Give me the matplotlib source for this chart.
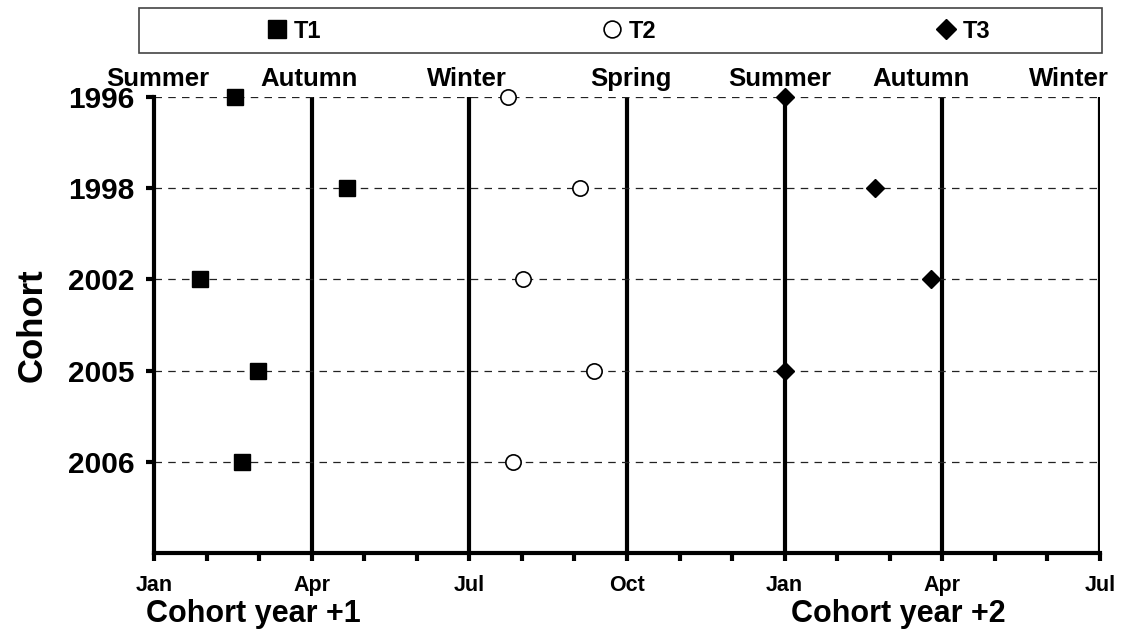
import numpy as np
import matplotlib.pyplot as plt
from matplotlib.patches import Rectangle

plt.rcParams['font.family'] = ['Liberation Sans', 'DejaVu Sans']
plt.rcParams['font.weight'] = 'bold'

# cohorts, top to bottom
cohorts = ["1996", "1998", "2002", "2005", "2006"]
cohort_pos = [5, 4, 3, 2, 1]

# months after 1 Jan of cohort year +1
t1 = [1.55, 3.68, 0.87, 1.98, 1.68]
t2 = [6.74, 8.10, 7.02, 8.37, 6.83]
t3 = [12.0, 13.72, 14.78, 12.0, np.nan]

month_ticks = [0, 3, 6, 9, 12, 15, 18]
month_labels = ["Jan", "Apr", "Jul", "Oct", "Jan", "Apr", "Jul"]
seasons = ["Summer", "Autumn", "Winter", "Spring", "Summer", "Autumn", "Winter"]
season_x = [0.08, 2.95, 5.95, 9.07, 11.9, 14.6, 17.4]

fig = plt.figure(figsize=(11.27, 6.39), dpi=100)
ax = fig.add_axes([0.1366, 0.1346, 0.976 - 0.1366, 0.848 - 0.1346])

ax.set_xlim(0, 18)
ax.set_ylim(0, 5)

# quarter lines and cohort gridlines
for m in month_ticks[1:]:
    ax.axvline(m, color="black", lw=3, zorder=1)
for y in cohort_pos:
    ax.axhline(y, color="#222222", lw=0.9, ls=(0, (6, 5)), zorder=1)

ax.plot(t1, cohort_pos, ls="none", marker="s", ms=12, color="black",
        clip_on=False, zorder=3, label="T1")
ax.plot(t2, cohort_pos, ls="none", marker="o", ms=11, mfc="white", mec="black",
        mew=1.2, clip_on=False, zorder=3, label="T2")
ax.plot(t3, cohort_pos, ls="none", marker="D", ms=9, color="black",
        clip_on=False, zorder=3, label="T3")

for s in ["top", "right"]:
    ax.spines[s].set_visible(False)
for s in ["left", "bottom"]:
    ax.spines[s].set_linewidth(3)

ax.set_xticks(month_ticks)
ax.set_xticklabels(month_labels, fontsize=15.5, fontweight="bold")
ax.set_xticks(np.arange(0, 19), minor=True)
ax.tick_params(axis="x", which="both", direction="out", length=6, width=3, pad=10)

ax.set_yticks(cohort_pos)
ax.set_yticklabels(cohorts, fontsize=21.5, fontweight="bold")
ax.tick_params(axis="y", direction="out", length=6, width=3, pad=8)

ax.set_ylabel("Cohort", fontsize=25, fontweight="bold", labelpad=14)

for x, s in zip(season_x, seasons):
    ax.text(x, 5.2, s, ha="center", va="center", fontsize=18.5,
            fontweight="bold", transform=ax.transData, clip_on=False)

fig.text(253 / 1127, 1 - 614 / 639, "Cohort year +1", ha="center", va="center",
         fontsize=22, fontweight="bold")
fig.text(898 / 1127, 1 - 614 / 639, "Cohort year +2", ha="center", va="center",
         fontsize=22, fontweight="bold")

# legend box
fig.patches.append(Rectangle((139 / 1127, 1 - 53 / 639), 963 / 1127, 45 / 639,
                             transform=fig.transFigure, fill=False,
                             edgecolor="#444444", lw=1.2))
fig.legend(loc="center", bbox_to_anchor=(628 / 1127, 1 - 31 / 639), ncol=3,
           frameon=False, columnspacing=11.8, handletextpad=0.2,
           handlelength=1.0, markerscale=1.1, prop={"weight": "bold", "size": 17})

fig.savefig("out.png", dpi=100)
